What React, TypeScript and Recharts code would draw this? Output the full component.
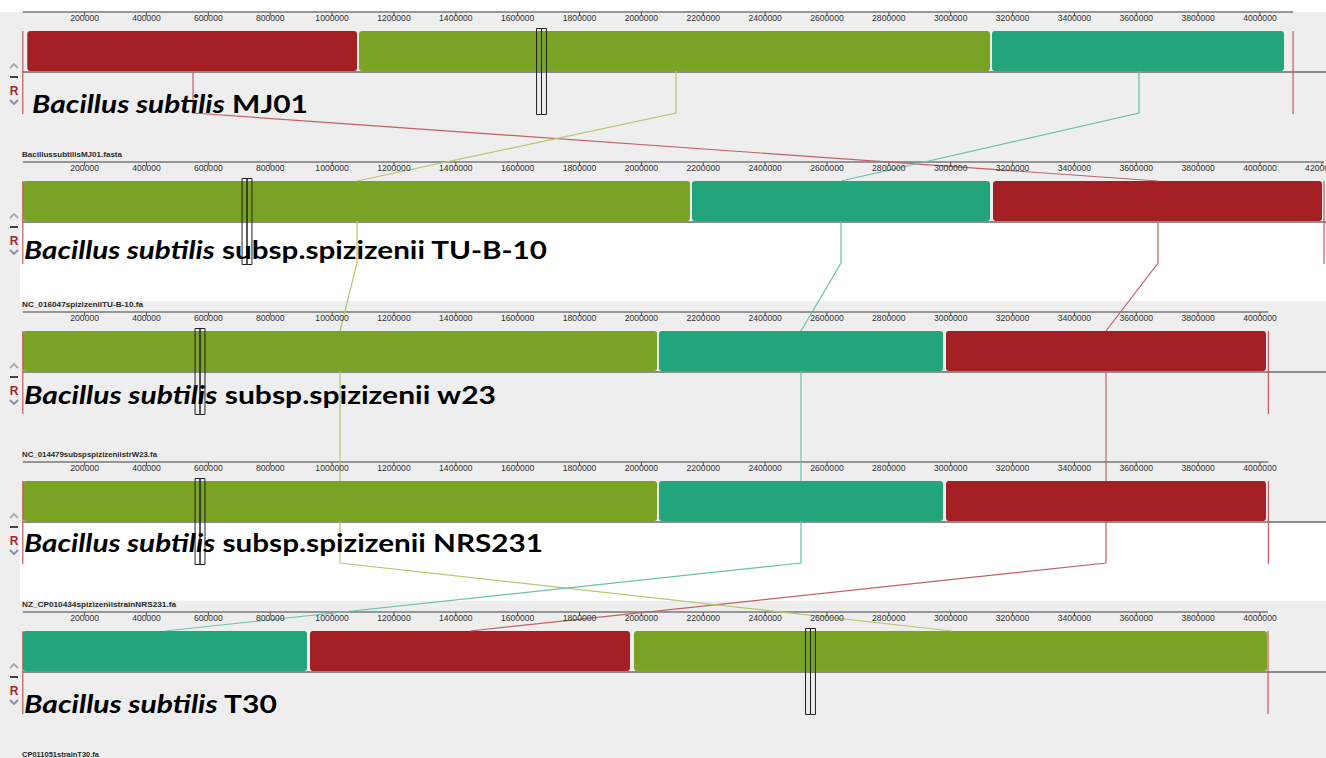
import React from 'react';
import { ComposedChart, XAxis, YAxis, Line, ReferenceArea, ReferenceLine } from 'recharts';

// ---------- chart frame ----------
const CHART_W = 1326;
const CHART_H = 758;
const TOP = 12;
const ROW = 150;
const X_DOMAIN: [number, number] = [-73700, 4213400];
const Y_DOMAIN: [number, number] = [0, CHART_H - TOP];

// ---------- data ----------
const genus = 'Bacillus subtilis';
const strainLabels = ['MJ01', 'subsp.spizizenii TU-B-10', 'subsp.spizizenii w23', 'subsp.spizizenii NRS231', 'T30'];
const fileNames = [
  'BacillussubtilisMJ01.fasta',
  'NC_016047spizizeniiTU-B-10.fa',
  'NC_014479subspspizizeniistrW23.fa',
  'NZ_CP010434spizizeniistrainNRS231.fa',
  'CP011051strainT30.fa',
];
const genomeLengths = [4107000, 4207000, 4027000, 4027000, 4026000];
const tickValues = [
  200000, 400000, 600000, 800000, 1000000, 1200000, 1400000, 1600000, 1800000, 2000000,
  2200000, 2400000, 2600000, 2800000, 3000000, 3200000, 3400000, 3600000, 3800000, 4000000, 4200000,
];

// LCB blocks [start, end] per genome
const redBlocks: [number, number][] = [
  [14500, 1080500], [3136800, 4200400], [2984800, 4019300], [2984800, 4019300], [928500, 1963100],
];
const greenBlocks: [number, number][] = [
  [1087000, 3127100], [0, 2157100], [0, 2050600], [0, 2050600], [1976000, 4022800],
];
const tealBlocks: [number, number][] = [
  [3133600, 4077700], [2163600, 3127100], [2057000, 2975100], [2057000, 2975100], [0, 918800],
];

// connector anchor positions per genome
const redAnchors = [550300, 3670200, 3502100, 3502100, 1445800];
const greenAnchors = [2111800, 1080500, 1025600, 1025600, 3004200];
const tealAnchors = [3608800, 2645300, 2516000, 2516000, 459700];

// cursor (highlight) position per genome
const cursorPositions = [1677000, 724900, 573000, 573000, 2546700];
const CURSOR_HALF = 16000;

// ---------- styles ----------
const lcbs = [
  { blocks: redBlocks, anchors: redAnchors, fill: '#a41f23', line: '#c2616c' },
  { blocks: greenBlocks, anchors: greenAnchors, fill: '#7aa326', line: '#b3ca6c' },
  { blocks: tealBlocks, anchors: tealAnchors, fill: '#22a57a', line: '#66c3ac' },
];

const PANEL_BG = '#eeeeee';

// vertical layout offsets within each panel
const BLOCK_TOP = 19;
const BLOCK_BOTTOM = 59;
const SEPARATOR = 60;
const KNEE = 101;
const CURSOR_TOP = 16.5;
const CURSOR_BOTTOM = 102.5;
const MARK_TOP = 19;
const MARK_BOTTOM = 102;

const labelX = [32, 24, 24, 24, 24];
const labelBaseline = [100.5, 96.5, 91.5, 90, 100.5];
const labelWidth = [276, 523, 472, 519, 253];
const fileLabelWidth = [100, 121, 135, 154, 77];
const lowerWhite = [false, true, false, true, false];

const RoundRect = (p: any) => (
  <rect x={p.x} y={p.y} width={Math.max(0, p.width)} height={Math.max(0, p.height)} rx={3} ry={3} fill={p.fill} />
);

const connectorSegments = lcbs.flatMap((lcb, k) =>
  lcb.anchors.slice(0, -1).map((a, i) => ({
    key: `c${k}-${i}`,
    color: lcb.line,
    data: [
      { x: a, y: ROW * i + BLOCK_BOTTOM },
      { x: a, y: ROW * i + KNEE },
      { x: lcb.anchors[i + 1], y: ROW * (i + 1) + BLOCK_TOP },
    ],
  }))
);

export default function App() {
  return (
    <div style={{ position: 'absolute', left: 0, top: 0, width: CHART_W, height: CHART_H, background: '#ffffff', overflow: 'hidden' }}>
      {/* backgrounds */}
      <svg width={CHART_W} height={CHART_H} style={{ position: 'absolute', left: 0, top: 0 }}>
        {genomeLengths.map((_, i) => {
          const b = TOP + ROW * i;
          return (
            <g key={i}>
              <rect x={0} y={b} width={CHART_W} height={ROW} fill={PANEL_BG} />
              {lowerWhite[i] && <rect x={20} y={b + SEPARATOR + 1} width={CHART_W - 20} height={78} fill="#ffffff" />}
            </g>
          );
        })}
      </svg>

      <div style={{ position: 'absolute', left: 0, top: 0 }}>
        <ComposedChart width={CHART_W} height={CHART_H} margin={{ top: TOP, right: 0, bottom: 0, left: 0 }}>
          <YAxis yAxisId={0} type="number" dataKey="y" domain={Y_DOMAIN} reversed hide allowDataOverflow />
          {genomeLengths.map((len, i) => (
            <XAxis
              key={`ax${i}`}
              xAxisId={i}
              type="number"
              dataKey="x"
              domain={X_DOMAIN}
              allowDataOverflow
              orientation="top"
              mirror
              height={ROW}
              ticks={tickValues.filter((t) => t < len)}
              interval={0}
              tickSize={4}
              tickMargin={-1}
              axisLine={false}
              tickLine={{ stroke: '#555555' }}
              tick={{ fontSize: 8.6, fill: '#2e2e2e', fontFamily: 'Liberation Sans, Arial, sans-serif' }}
            />
          ))}

          {/* separator line under the blocks, and ruler line on top */}
          {genomeLengths.map((len, i) => (
            <ReferenceLine
              key={`sep${i}`}
              segment={[{ x: 0, y: ROW * i + SEPARATOR }, { x: X_DOMAIN[1], y: ROW * i + SEPARATOR }]}
              stroke="#6a6a6a"
              strokeWidth={1.5}
              ifOverflow="visible"
              zIndex={50}
            />
          ))}
          {genomeLengths.map((len, i) => (
            <ReferenceLine
              key={`rul${i}`}
              segment={[{ x: 0, y: ROW * i }, { x: len, y: ROW * i }]}
              stroke="#777777"
              strokeWidth={1.6}
              ifOverflow="visible"
              zIndex={50}
            />
          ))}

          {/* LCB blocks */}
          {lcbs.flatMap((lcb, k) =>
            lcb.blocks.map(([s, e], i) => (
              <ReferenceArea
                key={`b${k}-${i}`}
                x1={s}
                x2={e}
                y1={ROW * i + BLOCK_TOP}
                y2={ROW * i + BLOCK_BOTTOM}
                fill={lcb.fill}
                fillOpacity={1}
                stroke="none"
                shape={RoundRect}
                ifOverflow="visible"
                zIndex={100}
              />
            ))
          )}

          {/* ruler labels end at the genome end */}
          {genomeLengths.map((len, i) => (
            <ReferenceArea
              key={`rc${i}`}
              x1={len}
              x2={X_DOMAIN[1]}
              y1={ROW * i + 1}
              y2={ROW * i + 14}
              fill={PANEL_BG}
              fillOpacity={1}
              stroke="none"
              ifOverflow="visible"
              zIndex={550}
            />
          ))}

          {/* connectors */}
          {connectorSegments.map((seg) => (
            <Line
              key={seg.key}
              data={seg.data}
              dataKey="y"
              xAxisId={0}
              yAxisId={0}
              type="linear"
              stroke={seg.color}
              strokeWidth={1.2}
              dot={false}
              activeDot={false}
              legendType="none"
              isAnimationActive={false}
              zIndex={600}
            />
          ))}

          {/* genome start / end markers */}
          {genomeLengths.flatMap((len, i) => [
            <ReferenceLine
              key={`ms${i}`}
              segment={[{ x: 0, y: ROW * i + MARK_TOP }, { x: 0, y: ROW * i + MARK_BOTTOM }]}
              stroke="#d0555a"
              strokeWidth={1.2}
              ifOverflow="visible"
              zIndex={650}
            />,
            <ReferenceLine
              key={`me${i}`}
              segment={[{ x: len, y: ROW * i + MARK_TOP }, { x: len, y: ROW * i + MARK_BOTTOM }]}
              stroke="#d0555a"
              strokeWidth={1.2}
              ifOverflow="visible"
              zIndex={650}
            />,
          ])}

          {/* cursor boxes */}
          {cursorPositions.flatMap((c, i) => [
            <ReferenceArea
              key={`cl${i}`}
              x1={c - CURSOR_HALF}
              x2={c}
              y1={ROW * i + CURSOR_TOP}
              y2={ROW * i + CURSOR_BOTTOM}
              fill="none"
              stroke="#222222"
              strokeWidth={1}
              ifOverflow="visible"
              zIndex={700}
            />,
            <ReferenceArea
              key={`cr${i}`}
              x1={c}
              x2={c + CURSOR_HALF}
              y1={ROW * i + CURSOR_TOP}
              y2={ROW * i + CURSOR_BOTTOM}
              fill="none"
              stroke="#222222"
              strokeWidth={1}
              ifOverflow="visible"
              zIndex={700}
            />,
          ])}
        </ComposedChart>
      </div>

      {/* labels and panel controls */}
      <svg width={CHART_W} height={CHART_H} style={{ position: 'absolute', left: 0, top: 0, pointerEvents: 'none' }}>
        {strainLabels.map((s, i) => {
          const b = TOP + ROW * i;
          return (
            <g key={i}>
              <text
                x={labelX[i]}
                y={b + labelBaseline[i]}
                textLength={labelWidth[i]}
                lengthAdjust="spacingAndGlyphs"
                fontFamily="Lato, 'Open Sans', sans-serif"
                fontWeight={700}
                fontSize={24}
                fill="#000000"
              >
                <tspan fontStyle="italic">{genus}</tspan>
                {' ' + s}
              </text>
              <text
                x={22}
                y={b + 145}
                textLength={fileLabelWidth[i]}
                lengthAdjust="spacingAndGlyphs"
                fontFamily="'Liberation Sans', Arial, sans-serif"
                fontWeight={700}
                fontSize={7.8}
                fill="#2a2a2a"
              >
                {fileNames[i]}
              </text>
              <path d={`M10,${b + 56} L14,${b + 52} L18,${b + 56}`} fill="none" stroke="#a4abbb" strokeWidth={1.8} />
              <rect x={10} y={b + 64} width={8} height={2} fill="#444444" />
              <text x={14} y={b + 83} textAnchor="middle" fontFamily="'Liberation Sans', Arial, sans-serif" fontWeight={700} fontSize={12} fill="#a0282a">
                R
              </text>
              <path d={`M10,${b + 88} L14,${b + 92} L18,${b + 88}`} fill="none" stroke="#8a8aa8" strokeWidth={1.8} />
            </g>
          );
        })}
      </svg>
    </div>
  );
}
